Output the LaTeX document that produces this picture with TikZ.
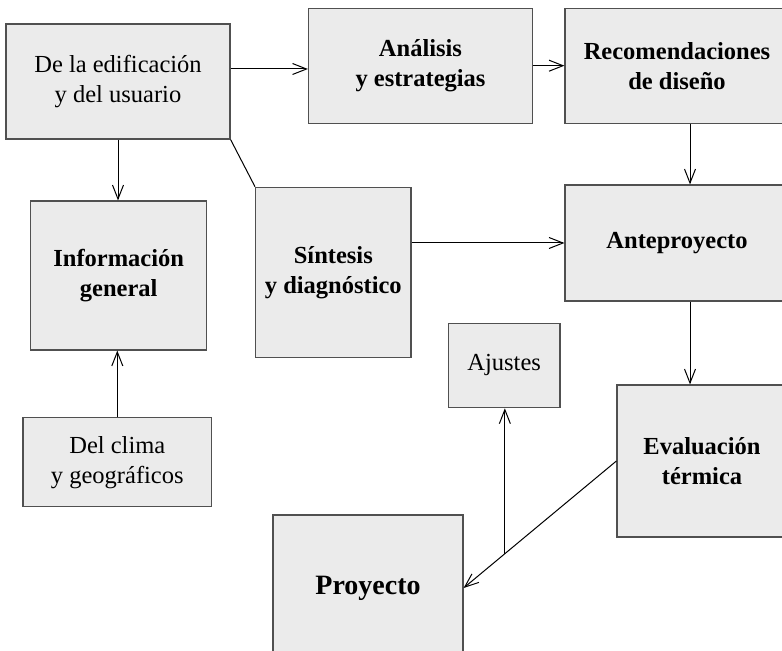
\documentclass[tikz,border=0pt]{standalone}
\usepackage{fontspec}
\setmainfont{Liberation Serif}
\usetikzlibrary{arrows.meta,calc}
\definecolor{boxfill}{HTML}{EBEBEB}
\definecolor{boxline}{HTML}{505050}
\tikzset{box/.style={draw=boxline, fill=boxfill, line width=0.6pt, inner sep=0pt, align=center, font=\fontsize{12.25}{15}\selectfont},
  bbox/.style={box, font=\fontsize{12.25}{15}\selectfont\bfseries},
  link/.style={black, line width=0.5pt},
  arr/.style={link, -{Straight Barb[length=7pt,width=5.5pt]}}}

\begin{document}
\begin{tikzpicture}[x=0.5pt,y=-0.5pt]
  \useasboundingbox (0,0) rectangle (782,651);
  \clip (0,0) rectangle (782,651);
  % top row
  \node[box, minimum width=112pt, minimum height=57.5pt] (edif) at (118,81.5) {De la edificación\\y del usuario};
  \node[bbox, minimum width=112pt, minimum height=57.5pt] (analisis) at (420.5,65.7) {Análisis\\y estrategias};
  \node[bbox, minimum width=112pt, minimum height=57.5pt] (recom) at (677,65.7) {Recomendaciones\\de diseño};
  % middle
  \node[bbox, minimum width=88pt, minimum height=74.5pt] (info) at (118.7,275.5) {Información\\general};
  \node[bbox, minimum width=77.7pt, minimum height=85.2pt] (sintesis) at (333.3,272.5) {Síntesis\\y diagnóstico};
  \node[bbox, minimum width=112pt, minimum height=58pt] (antep) at (677,243) {Anteproyecto};
  % bottom
  \node[box, minimum width=94.3pt, minimum height=44.5pt] (clima) at (117.3,462.2) {Del clima\\y geográficos};
  \node[box, minimum width=55.8pt, minimum height=42.2pt] (ajustes) at (504.2,365.5) {Ajustes};
  \node[bbox, minimum width=85pt, minimum height=76pt] (evalua) at (702,461) {Evaluación\\térmica};
  \node[bbox, minimum width=95pt, minimum height=73pt, font=\fontsize{14}{17}\selectfont\bfseries] (proy) at (368,588) {Proyecto};

  \draw[arr] ([yshift=6.25pt]edif.east) -- ([yshift=6.25pt]edif.east -| analisis.west);
  \draw[arr] (analisis) -- (recom);
  \draw[arr] (edif.south) -- (edif.south |- info.north);
  \draw[link] (edif.south east) -- (sintesis.north west);
  \draw[arr] (clima.north) -- (clima.north |- info.south);
  \draw[arr] (sintesis.east |- antep.west) -- (antep.west);
  \draw[arr] ([xshift=6.5pt]recom.south) -- ([xshift=6.5pt]recom.south |- antep.north);
  \draw[arr] ([xshift=6.5pt]antep.south) -- ([xshift=6.5pt]antep.south |- evalua.north);
  \draw[arr] (evalua.west) -- coordinate[pos=0.73] (cruce) (proy.east);
  \draw[arr] (cruce) -- (cruce |- ajustes.south);
\end{tikzpicture}
\end{document}
